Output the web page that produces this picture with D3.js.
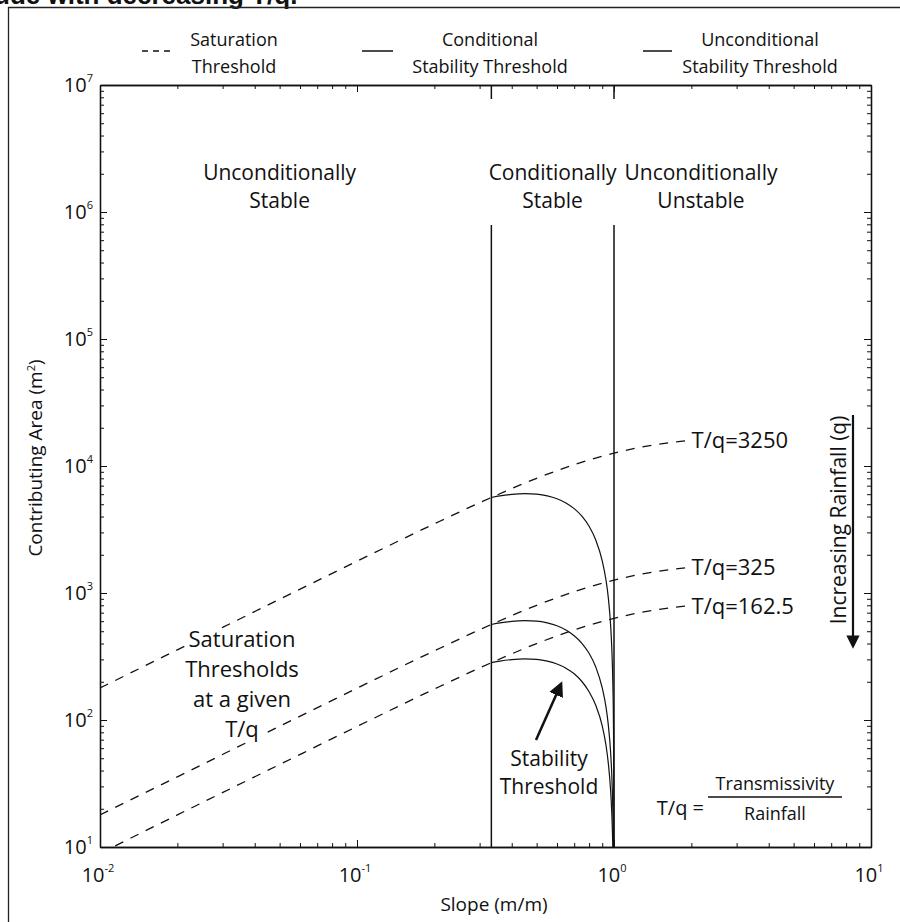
<!DOCTYPE html>
<html><head><meta charset="utf-8">
<script src="https://cdn.jsdelivr.net/npm/d3@7"></script>
<style>
body{margin:0;background:#fff}
svg{display:block}
text{font-family:"Open Sans","Noto Sans",sans-serif;fill:#111}
</style>
</head><body>
<svg id="chart" width="900" height="922"></svg>
<script>
// ---------------- data ----------------
const xTickExps = [-2, -1, 0, 1];
const yTickExps = [1, 2, 3, 4, 5, 6, 7];
const tqLabels = ["T/q=3250", "T/q=325", "T/q=162.5"];
// saturation thresholds (dashed)
const satSlope   = [0.01, 0.02, 0.05, 0.1, 0.2, 0.3333, 0.5, 0.7, 1.0, 1.4, 1.95];
const sat3250    = [178.7, 357, 893, 1779, 3506, 5652, 7994, 10251, 12640, 14545, 15905];
const sat325     = [17.9, 35.7, 89.3, 177.9, 350.6, 565.2, 799.4, 1025, 1264, 1454, 1590];
const sat1625    = [8.9, 17.9, 44.6, 88.9, 175.3, 282.6, 399.7, 512.6, 632, 727, 795];
// stability thresholds (solid)
const stabSlope  = [0.3333, 0.36, 0.4, 0.45, 0.5, 0.55, 0.6, 0.65, 0.7, 0.75, 0.8, 0.85, 0.9, 0.93, 0.95, 0.97, 0.98, 0.99, 0.995, 0.9985, 1.0];
const stab3250   = [5652, 5813, 5976, 6053, 5995, 5815, 5518, 5114, 4614, 4022, 3350, 2604, 1793, 1278, 924, 559, 375, 189, 95, 28.4, 9];
const stab325    = [565, 581, 598, 605, 600, 581, 552, 511, 461, 402, 335, 260, 179, 128, 92, 56, 37.5, 18.9, 9.5, 2.8, 0.9];
const stab1625   = [283, 291, 299, 303, 300, 291, 276, 256, 231, 201, 167, 130, 90, 64, 46, 28, 18.8, 9.4, 4.7, 1.4, 0.45];
const thresholdSlopes = [0.3333, 1.0];
const regionLabels = [["Unconditionally", "Stable"], ["Conditionally", "Stable"], ["Unconditionally", "Unstable"]];
const regionSlopes = [0.05, 0.577, 2.18];
const legendItems = [
  {dash: true,  lines: ["Saturation", "Threshold"]},
  {dash: false, lines: ["Conditional", "Stability Threshold"]},
  {dash: false, lines: ["Unconditional", "Stability Threshold"]}
];

// ---------------- layout ----------------
const svg = d3.select("#chart");
const L = 100, R = 871, T = 85, B = 847;
const x = d3.scaleLog().domain([0.01, 10]).range([L, R]);
const y = d3.scaleLog().domain([10, 1e7]).range([B, T]);

// caption fragment + frame
svg.append("text").attr("x", -6).attr("y", 4)
  .style("font-family", "'Liberation Sans',Arial,sans-serif").style("font-weight", "bold")
  .style("font-size", "26px").text("ude  with decreasing T/q.");
svg.append("path").attr("d", "M8.5,922V7.5H900").attr("fill", "none").attr("stroke", "#222").attr("stroke-width", 1.3);

// clip
svg.append("clipPath").attr("id", "clip").append("rect")
  .attr("x", L).attr("y", T).attr("width", R - L).attr("height", B - T);
const plot = svg.append("g").attr("clip-path", "url(#clip)");

const line = d3.line().x(d => x(d[0])).y(d => y(Math.max(d[1], 1))).curve(d3.curveMonotoneX);

// vertical threshold lines
thresholdSlopes.forEach(s => {
  plot.append("line").attr("x1", x(s)).attr("x2", x(s)).attr("y1", y(1e7)).attr("y2", y(10))
    .attr("stroke", "#111").attr("stroke-width", 1.5);
});

// saturation (dashed)
[sat3250, sat325, sat1625].forEach(arr => {
  const d = satSlope.map((s, i) => [s, arr[i]]);
  plot.append("path").attr("d", line(d)).attr("fill", "none")
    .attr("stroke", "#111").attr("stroke-width", 1.3).attr("stroke-dasharray", "9,8");
});

// stability (solid)
[stab3250, stab325, stab1625].forEach(arr => {
  const d = stabSlope.map((s, i) => [s, arr[i]]);
  plot.append("path").attr("d", line(d)).attr("fill", "none")
    .attr("stroke", "#111").attr("stroke-width", 1.2);
});

// white knockout behind middle region label (hides the vertical lines there)
svg.append("rect").attr("x", x(thresholdSlopes[0]) - 6).attr("y", 99)
  .attr("width", x(thresholdSlopes[1]) - x(thresholdSlopes[0]) + 12).attr("height", 126).attr("fill", "#fff");

// region labels
regionLabels.forEach((lines, i) => {
  const t = svg.append("text").attr("text-anchor", "middle").style("font-size", "21px");
  lines.forEach((ln, j) => t.append("tspan").attr("x", x(regionSlopes[i])).attr("y", 180 + j * 28).text(ln));
});

// axes
function minors(lo, hi) {
  const out = [];
  for (let e = lo; e < hi; e++) for (let k = 2; k <= 9; k++) out.push(k * Math.pow(10, e));
  return out;
}
const xMaj = xTickExps.map(e => Math.pow(10, e)), xMin = minors(-2, 1);
const yMaj = yTickExps.map(e => Math.pow(10, e)), yMin = minors(1, 7);
function axisGroup(axisFn, scale, vals, size, tx, ty) {
  const g = svg.append("g").attr("transform", `translate(${tx},${ty})`)
    .call(axisFn(scale).tickValues(vals).tickSize(-size).tickSizeOuter(0).tickFormat(""));
  g.selectAll("path.domain").attr("stroke", "#111").attr("stroke-width", 1.3);
  g.selectAll(".tick line").attr("stroke", "#111").attr("stroke-width", 1);
  return g;
}
axisGroup(d3.axisBottom, x, xMaj, 7, 0, B);
axisGroup(d3.axisBottom, x, xMin, 4, 0, B);
axisGroup(d3.axisTop, x, xMaj, 7, 0, T);
axisGroup(d3.axisTop, x, xMin, 4, 0, T);
axisGroup(d3.axisLeft, y, yMaj, 7, L, 0);
axisGroup(d3.axisLeft, y, yMin, 4, L, 0);
axisGroup(d3.axisRight, y, yMaj, 7, R, 0);
axisGroup(d3.axisRight, y, yMin, 4, R, 0);

// tick labels
xTickExps.forEach(e => {
  const t = svg.append("text").attr("x", x(Math.pow(10, e)) - 2).attr("y", 882)
    .attr("text-anchor", "middle").style("font-size", "20px");
  t.append("tspan").text("10");
  t.append("tspan").attr("dy", -10).style("font-size", "11px").text(e);
});
yTickExps.forEach(e => {
  const t = svg.append("text").attr("x", 93).attr("y", y(Math.pow(10, e)) + 7)
    .attr("text-anchor", "end").style("font-size", "20px");
  t.append("tspan").text("10");
  t.append("tspan").attr("dy", -10).style("font-size", "11px").text(e);
});
svg.append("text").attr("x", 494).attr("y", 911).attr("text-anchor", "middle")
  .style("font-size", "19px").text("Slope (m/m)");
const yl = svg.append("text").attr("transform", `translate(42,${(T + B) / 2 - 8}) rotate(-90)`)
  .attr("text-anchor", "middle").style("font-size", "19px");
yl.append("tspan").text("Contributing Area (m");
yl.append("tspan").attr("dy", -7).style("font-size", "11px").text("2");
yl.append("tspan").attr("dy", 7).text(")");

// legend
const legX = [[142, 170, 234], [362, 393, 490], [643, 672, 760]];
legendItems.forEach((it, i) => {
  svg.append("line").attr("x1", legX[i][0]).attr("x2", legX[i][1]).attr("y1", 51).attr("y2", 51)
    .attr("stroke", "#111").attr("stroke-width", 1.5).attr("stroke-dasharray", it.dash ? "6,5" : null);
  const t = svg.append("text").attr("text-anchor", "middle").style("font-size", "18px");
  it.lines.forEach((ln, j) => t.append("tspan").attr("x", legX[i][2]).attr("y", 46 + j * 27).text(ln));
});

// T/q labels at end of dashed lines
const ends = [sat3250, sat325, sat1625].map(a => a[a.length - 1]);
tqLabels.forEach((lb, i) => {
  svg.append("text").attr("x", x(satSlope[satSlope.length - 1]) + 3).attr("y", y(ends[i]) + 8)
    .style("font-size", "22px").text(lb);
});

// Saturation thresholds annotation (white halo knocks out dashes)
const satNote = ["Saturation", "Thresholds", "at a given", "T/q"];
satNote.forEach((ln, j) => {
  svg.append("text").attr("x", 242).attr("y", 647 + j * 30).attr("text-anchor", "middle")
    .style("font-size", "22px").attr("stroke", "#fff").attr("stroke-width", 8)
    .attr("paint-order", "stroke").text(ln);
});

// Stability Threshold annotation with arrow
["Stability", "Threshold"].forEach((ln, j) => {
  svg.append("text").attr("x", 549).attr("y", 766 + j * 28).attr("text-anchor", "middle")
    .style("font-size", "21px").attr("stroke", "#fff").attr("stroke-width", 6)
    .attr("paint-order", "stroke").text(ln);
});
svg.append("defs").html('<marker id="ah" viewBox="0 0 10 10" refX="8" refY="5" markerWidth="6" markerHeight="6" orient="auto"><path d="M0,0L10,5L0,10z" fill="#111"/></marker>');
svg.append("line").attr("x1", 536).attr("y1", 740).attr("x2", 561).attr("y2", 684)
  .attr("stroke", "#111").attr("stroke-width", 2.5).attr("marker-end", "url(#ah)");

// Increasing rainfall
svg.append("text").attr("transform", "translate(846,520) rotate(-90)").attr("text-anchor", "middle")
  .style("font-size", "21px").text("Increasing Rainfall (q)");
svg.append("line").attr("x1", 853).attr("y1", 415).attr("x2", 853).attr("y2", 646)
  .attr("stroke", "#111").attr("stroke-width", 2.2).attr("marker-end", "url(#ah)");

// T/q = Transmissivity / Rainfall
svg.append("text").attr("x", 704).attr("y", 815).attr("text-anchor", "end").style("font-size", "20px").text("T/q =");
svg.append("text").attr("x", 775).attr("y", 790).attr("text-anchor", "middle").style("font-size", "18px").text("Transmissivity");
svg.append("line").attr("x1", 708).attr("x2", 842).attr("y1", 797).attr("y2", 797).attr("stroke", "#111").attr("stroke-width", 1.5);
svg.append("text").attr("x", 775).attr("y", 820).attr("text-anchor", "middle").style("font-size", "18px").text("Rainfall");
</script>
</body></html>
